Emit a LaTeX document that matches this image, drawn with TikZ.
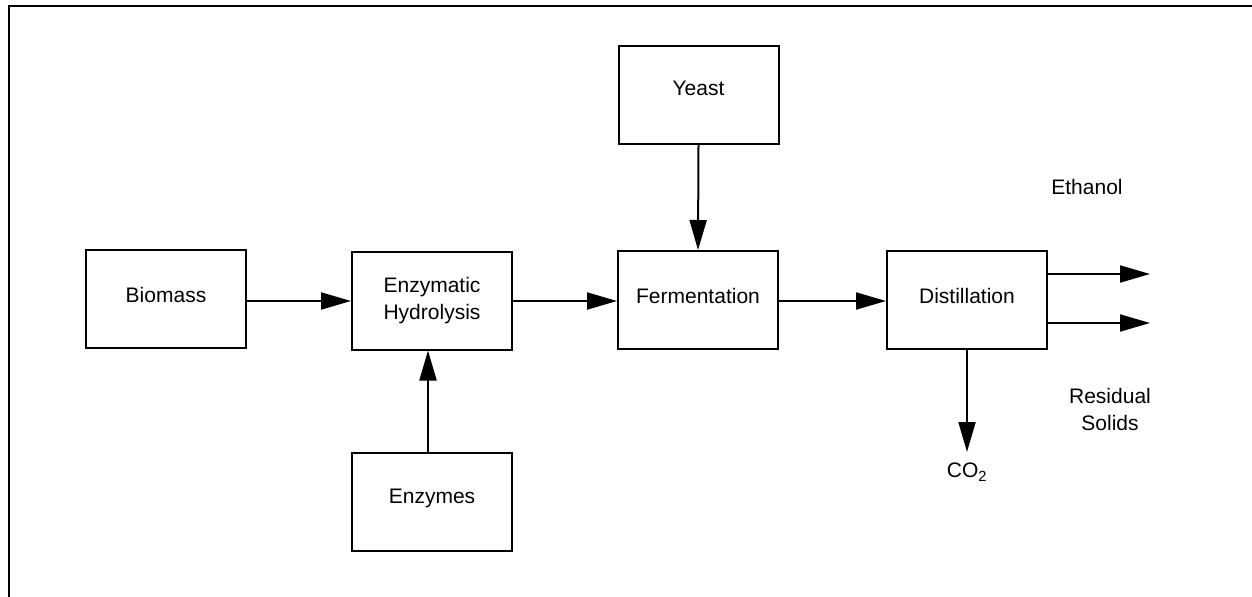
\documentclass[tikz,border=0pt]{standalone}
\usepackage{fontspec}
\setmainfont{Liberation Sans}
\usetikzlibrary{arrows.meta,calc}
\tikzset{
  boxnode/.style={draw, line width=1.5pt, minimum width=120pt, minimum height=73.5pt, inner sep=0pt, align=center,
    font=\fontsize{15.75}{20.25}\selectfont},
  lift/.style={text height=11.3pt, text depth=#1},
  lbl/.style={align=center, inner sep=0pt, font=\fontsize{15.75}{20.25}\selectfont},
  flow/.style={line width=1.5pt, -{Triangle[length=22.5pt, width=12.75pt]}},
  frame/.style={line width=1.5pt}
}
\begin{document}
\begin{tikzpicture}[x=0.75pt, y=-0.75pt]
\useasboundingbox (0,0) rectangle (1252,596);
\coordinate (fbl) at (9,600);
\coordinate (ftl) at (9,6);
\coordinate (ftr) at (1256,6);
\draw[frame] (fbl) -- (ftl) -- (ftr);

\node[boxnode, lift=6pt] (bio) at (166,299) {Biomass};
\node[boxnode] (hyd) at (432,300.5) {Enzymatic\\Hydrolysis};
\node[boxnode, lift=6.5pt] (fer) at (698,300) {Fermentation};
\node[boxnode, lift=6.8pt] (dist) at (967,300) {Distillation};
\node[boxnode, lift=10.5pt] (yeast) at (698.5,95) {Yeast};
\node[boxnode, lift=8pt] (enz) at (432,501.5) {Enzymes};

\node[lbl] (eth) at (1087,187) {Ethanol};
\node[lbl] (res) at (1110,409) {Residual\\Solids};
\node[lbl] (co2) at (967,472) {CO\textsubscript{2}};

\coordinate (e1) at (1150,274);
\coordinate (e2) at (1150,323);
\coordinate (c1) at (967,452);
\coordinate (h1) at (0,301);

\draw[flow] (bio.east |- h1) -- (hyd.west |- h1);
\draw[flow] (hyd.east |- h1) -- (fer.west |- h1);
\draw[flow] (fer.east |- h1) -- (dist.west |- h1);
\draw[flow] (yeast.south) -- (fer.north);
\draw[flow] ($(enz.north)+(-4,0)$) -- ($(hyd.south)+(-4,0)$);
\draw[flow] (dist.south) -- (c1);
\draw[flow] (dist.east |- e1) -- (e1);
\draw[flow] (dist.east |- e2) -- (e2);
\end{tikzpicture}
\end{document}
